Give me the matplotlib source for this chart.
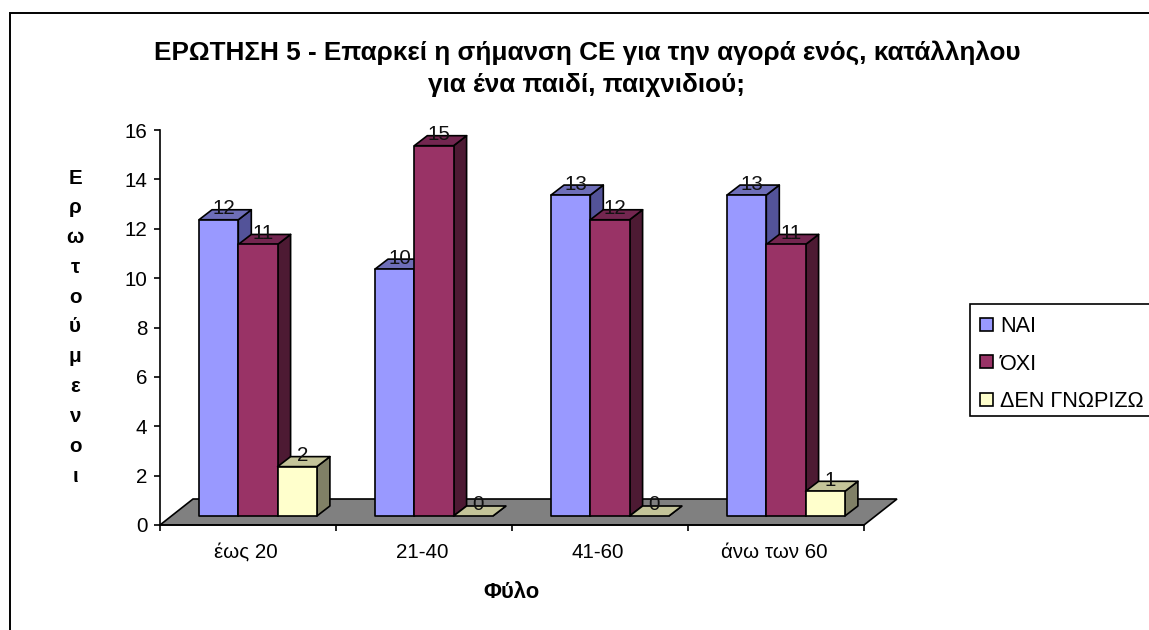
import matplotlib
matplotlib.use("Agg")
import matplotlib.pyplot as plt
from matplotlib.patches import Polygon, Rectangle

plt.rcParams['font.family'] = ['Liberation Sans', 'DejaVu Sans']

W, H = 1149, 630

CATEGORIES = ["έως 20", "21-40", "41-60", "άνω των 60"]
SERIES = ["ΝΑΙ", "ΌΧΙ", "ΔΕΝ ΓΝΩΡΙΖΩ"]
NAI = [12, 10, 13, 13]
OXI = [11, 15, 12, 11]
DEN_GNORIZO = [2, 0, 0, 1]
YTICKS = [0, 2, 4, 6, 8, 10, 12, 14, 16]

# front, side, top colours of the fake 3d boxes
COLORS = [("#9999FF", "#535399", "#6E6EB8"),
          ("#993366", "#4D1A33", "#732650"),
          ("#FFFFCC", "#808066", "#C4C499")]

PX_X = 704 / 4      # pixels per category
PX_Y = 395 / 16     # pixels per unit
FONT = 14.8


def px(dx, dy):
   return dx / PX_X, dy / PX_Y


def draw_box(ax, x, w, val, colors):
   # base of the boxes sits 9 px above the axis line, mid depth of the floor
   _, y0 = px(0, 9)
   dx, dy = px(13, 10)
   front, side, top = colors
   y1 = y0 + val
   style = dict(edgecolor="black", linewidth=1.2, clip_on=False, joinstyle="round")
   ax.add_patch(Polygon([(x + w, y0), (x + w + dx, y0 + dy), (x + w + dx, y1 + dy), (x + w, y1)],
      facecolor=side, zorder=3, **style))
   ax.add_patch(Polygon([(x, y1), (x + dx, y1 + dy), (x + w + dx, y1 + dy), (x + w, y1)],
      facecolor=top, zorder=3, **style))
   if val > 0:
      ax.add_patch(Rectangle((x, y0), w, val, facecolor=front, zorder=3, **style))
   ax.text(x + w / 2 + px(5, 0)[0], y1 + px(0, 11)[1], str(val), ha="center", va="center",
      fontsize=FONT, zorder=5, color="#111111")


def main():
   fig = plt.figure(figsize=(W / 100, H / 100), dpi=100)
   ax = fig.add_axes([160 / W, 1 - 525 / H, 704 / W, 395 / H])
   ax.set_xlim(0, 4)
   ax.set_ylim(0, 16)

   # outer chart frame, runs off the right and bottom edges
   fig.add_artist(Rectangle((10 / W, -0.01), 1.2, 1.01 - 13 / H, transform=fig.transFigure,
      facecolor="none", edgecolor="black", linewidth=1.4))

   # floor
   fx, fy = px(33, 26)
   ax.add_patch(Polygon([(0, 0), (fx, fy), (4 + fx, fy), (4, 0)], facecolor="#808080",
      edgecolor="black", linewidth=1.2, clip_on=False, zorder=1))

   w = px(39.3, 0)[0]
   start = px(39, 0)[0]
   for i, values in enumerate([NAI, OXI, DEN_GNORIZO]):
      for c, val in enumerate(values):
         draw_box(ax, c + start + i * w, w, val, COLORS[i])

   ax.spines["top"].set_visible(False)
   ax.spines["right"].set_visible(False)
   ax.spines["left"].set_linewidth(1.2)
   ax.spines["bottom"].set_linewidth(1.2)
   ax.set_yticks(YTICKS)
   ax.set_xticks([0, 1, 2, 3, 4])
   ax.set_xticklabels([])
   ax.tick_params(axis="both", length=4, width=1.2, labelsize=FONT, pad=5)
   for c, name in enumerate(CATEGORIES):
      ax.text(c + 0.49, -px(0, 33)[1], name, ha="center", va="baseline", fontsize=FONT)

   fig.text(587 / W, 1 - 68.5 / H, "ΕΡΩΤΗΣΗ 5 - Επαρκεί η σήμανση CE για την αγορά ενός, κατάλληλου\nγια ένα παιδί, παιχνιδιού;",
      ha="center", va="center", fontsize=18.8, fontweight="bold", linespacing=1.4)
   fig.text(512 / W, 1 - 598 / H, "Φύλο", ha="center", va="baseline", fontsize=FONT + 1, fontweight="bold")
   fig.text(75 / W, 1 - 327 / H, "\n".join("Ερωτούμενοι"), ha="center", va="center", fontsize=FONT,
      fontweight="bold", linespacing=1.72)

   # legend box, cut by the right edge like the original
   fig.add_artist(Rectangle((970 / W, 1 - 416 / H), 200 / W, 112 / H, transform=fig.transFigure,
      facecolor="white", edgecolor="black", linewidth=1.2))
   for i, name in enumerate(SERIES):
      yc = 1 - (324 + i * 37.5) / H
      fig.add_artist(Rectangle((980 / W, yc - 6.5 / H), 13 / W, 13 / H, transform=fig.transFigure,
         facecolor=COLORS[i][0], edgecolor="black", linewidth=1.2))
      fig.text(1000 / W, yc - 8 / H, name, ha="left", va="baseline", fontsize=FONT + 0.8)

   plt.savefig("out.png", dpi=100)


if __name__ == '__main__':
   main()
